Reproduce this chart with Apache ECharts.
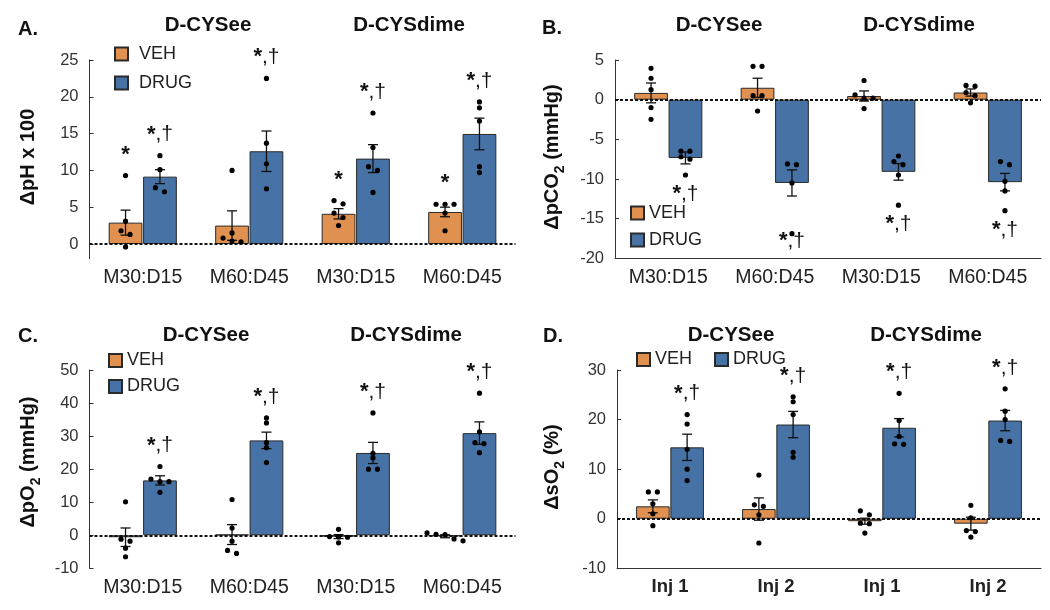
<!DOCTYPE html>
<html><head><meta charset="utf-8">
<script src="https://cdn.jsdelivr.net/npm/echarts@6/dist/echarts.min.js"></script>
<style>html,body{margin:0;padding:0;background:#fff}#c{width:1050px;height:610px}</style>
</head><body><div id="c"></div>
<script>
// ---------- data ----------
const catsGas = ['M30:D15', 'M60:D45', 'M30:D15', 'M60:D45'];
const catsInj = ['Inj 1', 'Inj 2', 'Inj 1', 'Inj 2'];
const groupTitles = ['D-CYSee', 'D-CYSdime'];
const seriesNames = ['VEH', 'DRUG'];

// Panel A: ΔpH x 100
const phVehMean = [2.9, 2.5, 4.1, 4.35];
const phVehSE = [1.7, 2.0, 0.7, 0.65];
const phDrugMean = [9.15, 12.6, 11.6, 14.95];
const phDrugSE = [0.95, 2.75, 1.9, 2.15];
const phVehPts = [[9.3, 3.1, 1.3, 1.8, -0.4], [10.0, 1.5, 0.8, 0.3, 0.4], [5.45, 5.9, 4.2, 3.6, 2.5], [5.4, 5.4, 5.4, 4.2, 1.8]];
const phDrugPts = [[12.0, 10.1, 7.65, 7.1], [22.5, 13.7, 10.9, 7.5], [17.8, 13.1, 10.5, 10.0, 7.0], [19.3, 18.5, 16.7, 10.5, 9.7]];
const phVehMarks = ['*', '', '*', '*'];
const phDrugMarks = ['*,†', '*,†', '*,†', '*,†'];
const phTicks = [0, 5, 10, 15, 20, 25];

// Panel B: ΔpCO2 (mmHg)
const co2VehMean = [0.85, 1.5, 0.46, 0.9];
const co2VehSE = [1.25, 1.2, 0.64, 0.45];
const co2DrugMean = [-7.35, -10.5, -9.1, -10.4];
const co2DrugSE = [0.75, 1.65, 1.05, 1.1];
const co2VehPts = [[3.95, 2.7, 1.26, -1.0, -2.48], [4.2, 4.2, 0.5, 0.5, -1.43], [2.4, 0.2, 0.2, 0.6, -1.13], [1.8, 1.7, 0.9, 0.5, -0.4]];
const co2DrugPts = [[-6.5, -6.5, -7.2, -7.5, -9.5], [-8.2, -8.1, -10.5, -16.9], [-7.1, -7.8, -8.2, -9.5, -13.3], [-7.8, -8.2, -10.3, -11.5, -14.0]];
const co2VehMarks = ['', '', '', ''];
const co2DrugMarks = ['*,†', '*,†', '*,†', '*,†'];

// Panel C: ΔpO2 (mmHg)
const o2VehMean = [-0.6, 0.2, -0.4, -0.3];
const o2VehSE = [2.8, 3.0, 0.6, 0.45];
const o2DrugMean = [16.6, 28.7, 24.9, 30.9];
const o2DrugSE = [1.4, 2.5, 3.2, 3.4];
const o2VehPts = [[10.1, -1.2, -1.8, -3.9, -6.5], [10.8, 2.2, -1.8, -4.6, -5.5], [1.8, -0.5, -0.6, -0.4, -2.3], [0.7, 0.3, 0.2, -1.1, -1.7]];
const o2DrugPts = [[20.8, 17.0, 16.2, 16.2, 13.0], [35.5, 34.0, 28.0, 26.5, 22.0], [37.0, 24.8, 23.4, 20.0, 20.0], [43.0, 31.3, 28.0, 27.7, 25.0]];
const o2VehMarks = ['', '', '', ''];
const o2DrugMarks = ['*,†', '*,†', '*,†', '*,†'];

// Panel D: ΔsO2 (%)
const so2VehMean = [2.5, 1.95, -0.5, -1.0];
const so2VehSE = [1.3, 2.25, 0.6, 1.3];
const so2DrugMean = [14.4, 19.0, 18.35, 19.8];
const so2DrugSE = [2.65, 2.65, 1.85, 2.05];
const so2VehPts = [[5.4, 5.4, 3.0, 1.0, -1.4], [8.8, 2.8, 2.5, 0.8, -4.9], [1.6, 0.8, -0.9, -1.0, -2.9], [2.7, 0.2, -2.4, -2.6, -3.7]];
const so2DrugPts = [[21.0, 19.1, 14.0, 10.0, 7.7], [24.6, 23.6, 21.0, 13.4, 12.4], [25.3, 19.8, 16.6, 15.1, 15.0], [26.2, 21.7, 20.0, 15.8, 15.6]];
const so2VehMarks = ['', '', '', ''];
const so2DrugMarks = ['*,†', '*,†', '*,†', '*,†'];

// ---------- layout / style ----------
const FONT = '"Liberation Sans", Arial, sans-serif';
const COLORS = ['#E0914F', '#4672A6'];
const CAT_GAP = 0.36, BAR_GAP = 0.02;

const panels = [
  { letter: 'A.', grid: { left: 89.5, top: 60, width: 426, height: 198.7 },
    yMin: -2, yMax: 25, customTicks: phTicks, cats: catsGas, catBold: false, bottomLine: false,
    mean: [phVehMean, phDrugMean], se: [phVehSE, phDrugSE], pts: [phVehPts, phDrugPts], marks: [phVehMarks, phDrugMarks],
    yName: '{a|ΔpH x 100}', namePos: [28, 157], letterPos: [18, 29], titlePos: [[208, 25], [409, 25]],
    legend: { left: 109, top: 39, orient: 'vertical', itemGap: 9, pad: 6 } },
  { letter: 'B.', grid: { left: 615, top: 60, width: 426, height: 198.3 },
    yMin: -20, yMax: 5, yStep: 5, cats: catsGas, catBold: false, bottomLine: true,
    mean: [co2VehMean, co2DrugMean], se: [co2VehSE, co2DrugSE], pts: [co2VehPts, co2DrugPts], marks: [co2VehMarks, co2DrugMarks],
    yName: '{a|ΔpCO}{s|2}{a| (mmHg)}', namePos: [552, 157], letterPos: [542, 28], titlePos: [[719, 25], [919, 25]],
    legend: { left: 625, top: 198, orient: 'vertical', itemGap: 7, pad: 0 } },
  { letter: 'C.', grid: { left: 89.5, top: 370, width: 426, height: 198.3 },
    yMin: -10, yMax: 50, yStep: 10, cats: catsGas, catBold: false, bottomLine: false,
    mean: [o2VehMean, o2DrugMean], se: [o2VehSE, o2DrugSE], pts: [o2VehPts, o2DrugPts], marks: [o2VehMarks, o2DrugMarks],
    yName: '{a|ΔpO}{s|2}{a| (mmHg)}', namePos: [28, 462], letterPos: [18, 336], titlePos: [[206, 335], [406, 335]],
    legend: { left: 103, top: 345.5, orient: 'vertical', itemGap: 6, pad: 0 } },
  { letter: 'D.', grid: { left: 617, top: 370, width: 424, height: 198.3 },
    yMin: -10, yMax: 30, yStep: 10, cats: catsInj, catBold: true, bottomLine: true,
    mean: [so2VehMean, so2DrugMean], se: [so2VehSE, so2DrugSE], pts: [so2VehPts, so2DrugPts], marks: [so2VehMarks, so2DrugMarks],
    yName: '{a|ΔsO}{s|2}{a| (%)}', namePos: [552, 467], letterPos: [543, 336], titlePos: [[731, 335], [926, 335]],
    legend: { left: 631, top: 344.5, orient: 'horizontal', itemGap: 22, pad: 0 } }
];

function barOffset(api, side) {
  const band = api.size([1, 0])[0];
  const bw = band * (1 - CAT_GAP) / (2 + BAR_GAP);
  return (side === 0 ? -1 : 1) * bw * (0.5 + BAR_GAP / 2);
}

function swarmOffsets(vals, api, ci) {
  const ys = vals.map(v => api.coord([ci, v])[1]);
  const order = ys.map((y, i) => i).sort((a, b) => ys[a] - ys[b]);
  const off = new Array(vals.length).fill(0);
  let cluster = [order[0]];
  const flush = () => { const n = cluster.length; cluster.forEach((idx, r) => { off[idx] = (r - (n - 1) / 2) * 9; }); };
  for (let j = 1; j < order.length; j++) {
    const idx = order[j], prev = cluster[cluster.length - 1];
    if (ys[idx] - ys[prev] < 4.5) cluster.push(idx); else { flush(); cluster = [idx]; }
  }
  flush();
  return off;
}

function markRich(t) {
  // bold asterisk, regular comma and dagger
  return t.split('').map(ch => ch === '*' ? '{b|*}' : '{r|' + ch + '}').join('');
}

const option = { animation: false, grid: [], xAxis: [], yAxis: [], series: [], legend: [], graphic: [] };

panels.forEach((p, gi) => {
  option.grid.push(Object.assign({ containLabel: false }, p.grid));
  option.xAxis.push({
    type: 'category', gridIndex: gi, data: p.cats,
    axisTick: { show: false },
    axisLine: { show: p.bottomLine, onZero: false, lineStyle: { color: '#333', width: 1 } },
    axisLabel: { interval: 0, fontSize: p.catBold ? 18.5 : 19.5, color: '#222', fontFamily: FONT, fontWeight: p.catBold ? 'bold' : 'normal', margin: 9 },
    splitLine: { show: false }
  });
  const ya = {
    type: 'value', gridIndex: gi, min: p.yMin, max: p.yMax,
    axisLine: { show: true, lineStyle: { color: '#333', width: 1 } },
    axisTick: { show: true, inside: true, length: 4, lineStyle: { color: '#333' } },
    axisLabel: { fontSize: 16.5, color: '#333', fontFamily: FONT, margin: 11 },
    splitLine: { show: false }
  };
  if (p.yStep) ya.interval = p.yStep;
  if (p.customTicks) { ya.axisLabel.customValues = p.customTicks; ya.axisTick.customValues = p.customTicks; }
  option.yAxis.push(ya);

  [0, 1].forEach(side => {
    const s = {
      type: 'bar', name: seriesNames[side], xAxisIndex: gi, yAxisIndex: gi,
      data: p.mean[side], barCategoryGap: (CAT_GAP * 100) + '%', barGap: (BAR_GAP * 100) + '%',
      itemStyle: { color: COLORS[side], borderColor: '#2a2a2a', borderWidth: 1 },
      z: 2
    };
    if (side === 1) {
      s.markLine = { silent: true, symbol: 'none', label: { show: false }, z: 5,
        lineStyle: { type: [3, 2], color: '#111', width: 2 }, data: [{ yAxis: 0 }] };
    }
    option.series.push(s);
  });

  // error bars
  const errData = [];
  [0, 1].forEach(side => p.mean[side].forEach((m, ci) => errData.push([ci, m, side, p.se[side][ci]])));
  option.series.push({
    type: 'custom', xAxisIndex: gi, yAxisIndex: gi, z: 6, silent: true,
    encode: { x: 0, y: 1 }, data: errData,
    renderItem: (params, api) => {
      const ci = api.value(0), m = api.value(1), side = api.value(2), se = api.value(3);
      const cx = api.coord([ci, m])[0] + barOffset(api, side);
      const top = api.coord([ci, m + se])[1], bot = api.coord([ci, m - se])[1];
      const st = { stroke: '#111', lineWidth: 1.3 };
      return { type: 'group', children: [
        { type: 'line', shape: { x1: cx, y1: top, x2: cx, y2: bot }, style: st },
        { type: 'line', shape: { x1: cx - 5, y1: top, x2: cx + 5, y2: top }, style: st },
        { type: 'line', shape: { x1: cx - 5, y1: bot, x2: cx + 5, y2: bot }, style: st }
      ] };
    }
  });

  // individual points
  const ptData = [];
  [0, 1].forEach(side => p.pts[side].forEach((arr, ci) => arr.forEach((v, k) => ptData.push([ci, v, side, k]))));
  option.series.push({
    type: 'custom', xAxisIndex: gi, yAxisIndex: gi, z: 7, silent: true,
    encode: { x: 0, y: 1 }, data: ptData,
    renderItem: (params, api) => {
      const ci = api.value(0), v = api.value(1), side = api.value(2), k = api.value(3);
      const offs = swarmOffsets(p.pts[side][ci], api, ci);
      const c = api.coord([ci, v]);
      return { type: 'circle', shape: { cx: c[0] + barOffset(api, side) + offs[k], cy: c[1], r: 2.6 }, style: { fill: '#000' } };
    }
  });

  // significance marks
  const mkData = [];
  [0, 1].forEach(side => p.marks[side].forEach((t, ci) => { if (t) mkData.push([ci, p.mean[side][ci], side]); }));
  option.series.push({
    type: 'custom', xAxisIndex: gi, yAxisIndex: gi, z: 8, silent: true,
    encode: { x: 0, y: 1 }, data: mkData,
    renderItem: (params, api) => {
      const ci = api.value(0), m = api.value(1), side = api.value(2);
      const text = p.marks[side][ci];
      const ys = p.pts[side][ci].map(v => api.coord([ci, v])[1]);
      const cx = api.coord([ci, m])[0] + barOffset(api, side);
      let y;
      if (m >= 0) y = Math.min.apply(null, ys) - 21;
      else y = Math.min(Math.max.apply(null, ys) + 19, params.coordSys.y + params.coordSys.height - 17);
      return { type: 'text', x: cx, y: y, style: { text: markRich(text), fontSize: 21, fontFamily: FONT, fill: '#111',
        align: 'center', verticalAlign: 'middle', textAlign: 'center', textVerticalAlign: 'middle',
        rich: { b: { fontSize: 22, fontWeight: 'bold', fontFamily: FONT, fill: '#111' },
                r: { fontSize: 21, fontFamily: FONT, fill: '#111' } } } };
    }
  });

  option.legend.push({
    data: seriesNames, left: p.legend.left, top: p.legend.top, orient: p.legend.orient,
    itemWidth: 13, itemHeight: 13, itemGap: p.legend.itemGap, icon: 'rect', selectedMode: false,
    textStyle: { fontSize: 18, color: '#222', fontFamily: FONT, lineHeight: 20, padding: [0, 0, 0, p.legend.pad] }
  });

  // panel letter, group titles, y-axis name
  option.graphic.push({ type: 'text', x: p.letterPos[0], y: p.letterPos[1], silent: true,
    style: { text: p.letter, fontSize: 20, fontWeight: 'bold', fontFamily: FONT, fill: '#111',
      align: 'left', verticalAlign: 'middle', textAlign: 'left', textVerticalAlign: 'middle' } });
  groupTitles.forEach((t, i) => option.graphic.push({ type: 'text', x: p.titlePos[i][0], y: p.titlePos[i][1], silent: true,
    style: { text: t, fontSize: 20.5, fontWeight: 'bold', fontFamily: FONT, fill: '#111',
      align: 'center', verticalAlign: 'middle', textAlign: 'center', textVerticalAlign: 'middle' } }));
  option.graphic.push({ type: 'text', x: p.namePos[0], y: p.namePos[1], rotation: Math.PI / 2, silent: true,
    style: { text: p.yName, fontFamily: FONT, fill: '#111',
      align: 'center', verticalAlign: 'middle', textAlign: 'center', textVerticalAlign: 'middle',
      rich: { a: { fontSize: 20, fontWeight: 'bold', fontFamily: FONT, fill: '#111', lineHeight: 30, verticalAlign: 'middle' },
              s: { fontSize: 14, fontWeight: 'bold', fontFamily: FONT, fill: '#111', lineHeight: 14, verticalAlign: 'bottom' } } } });
});

const chart = echarts.init(document.getElementById('c'), null, { renderer: 'canvas' });
chart.setOption(option);
</script>
</body></html>
